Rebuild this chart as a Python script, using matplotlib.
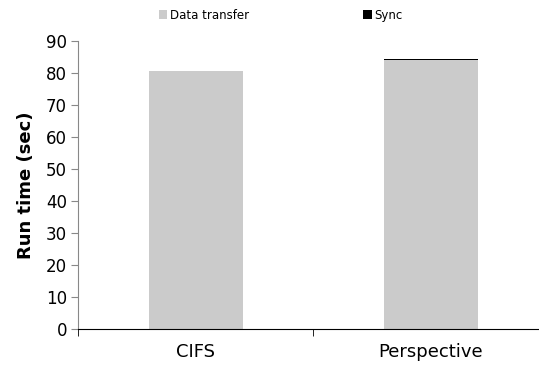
import matplotlib.pyplot as plt
import numpy as np

# values
systems = ['CIFS', 'Perspective']
data_transfer = [80.6, 84.0]
sync = [0.0, 0.4]

fig = plt.figure(figsize=(5.39, 3.69), dpi=100)
ax = fig.add_axes([78/539, 1 - 329/369, 470/539, (329 - 41)/369])

x = np.arange(len(systems))
w = 0.4
b1 = ax.bar(x, data_transfer, w, color='#cbcbcb', label='Data transfer')
b2 = ax.bar(x, sync, w, bottom=data_transfer, color='black', label='Sync')

ax.set_ylim(0, 90)
ax.set_yticks(range(0, 91, 10))
ax.set_xlim(-0.5, 1.5)
ax.set_xticks(x)
ax.set_xticks([-0.5, 0.5, 1.5], minor=True)
ax.set_xticklabels(systems, fontsize=13)
ax.tick_params(axis='x', which='major', length=0, pad=10)
ax.tick_params(axis='x', which='minor', length=5, direction='out', color='black')
ax.tick_params(axis='y', labelsize=12, direction='out', length=5, color='#888888', pad=3)
ax.set_ylabel('Run time (sec)', fontsize=13, fontweight='bold', labelpad=8)

for s in ['top', 'right']:
    ax.spines[s].set_visible(False)
ax.spines['left'].set_color('#888888')
ax.spines['bottom'].set_color('black')

fig.legend(handles=[b1, b2], loc='upper left', bbox_to_anchor=(148/539, 1.005),
           ncol=2, frameon=False, fontsize=8.5, handlelength=0.75, handleheight=0.75,
           handletextpad=0.2, columnspacing=9.7)

fig.savefig('out.png', dpi=100)
